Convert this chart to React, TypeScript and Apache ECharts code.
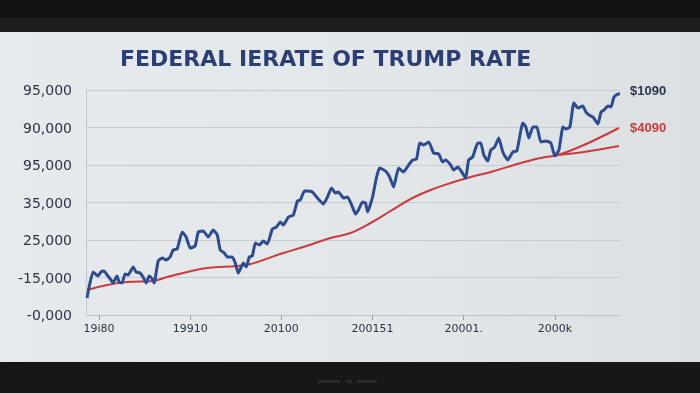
import React, { useEffect, useRef } from "react";
import * as echarts from "echarts";

const TITLE = "FEDERAL IERATE OF TRUMP RATE";
const Y_LABELS = ["-0,000", "-15,000", "25,000", "35,000", "95,000", "90,000", "95,000"];
const X_TICKS = [1980, 1987, 1994, 2001, 2008, 2015];
const X_LABELS = ["19i80", "19910", "20100", "200151", "20001.", "2000k"];
const END_LABEL_BLUE = "$1090";
const END_LABEL_RED = "$4090";

const BLUE_YEARS = [
  1979.08, 1979.54, 1979.92, 1980.15, 1980.38, 1980.62, 1980.92, 1981.08, 1981.38, 1981.54,
  1981.77, 1982.0, 1982.23, 1982.62, 1982.85, 1983.15, 1983.38, 1983.62, 1983.85, 1984.08,
  1984.23, 1984.54, 1984.85, 1985.15, 1985.46, 1985.69, 1986.0, 1986.38, 1986.69, 1987.0,
  1987.38, 1987.62, 1988.0, 1988.38, 1988.77, 1989.08, 1989.31, 1989.62, 1989.85, 1990.23,
  1990.46, 1990.69, 1991.08, 1991.31, 1991.54, 1991.77, 1992.0, 1992.31, 1992.62, 1992.92,
  1993.31, 1993.62, 1993.92, 1994.15, 1994.54, 1994.92, 1995.23, 1995.46, 1995.77, 1996.0,
  1996.38, 1996.77, 1997.23, 1997.54, 1997.85, 1998.15, 1998.38, 1998.77, 1999.08, 1999.46,
  1999.69, 1999.92, 2000.23, 2000.46, 2000.62, 2001.0, 2001.31, 2001.54, 2002.0, 2002.31,
  2002.62, 2003.0, 2003.38, 2003.77, 2004.08, 2004.38, 2004.62, 2004.92, 2005.31, 2005.69,
  2006.08, 2006.38, 2006.62, 2007.0, 2007.23, 2007.54, 2007.85, 2008.15, 2008.38, 2008.69,
  2009.08, 2009.31, 2009.54, 2009.85, 2010.08, 2010.38, 2010.69, 2011.0, 2011.38, 2011.77,
  2012.08, 2012.54, 2012.77, 2013.0, 2013.31, 2013.62, 2013.92, 2014.31, 2014.69, 2015.0,
  2015.31, 2015.62, 2015.85, 2016.15, 2016.46, 2016.77, 2017.15, 2017.38, 2017.62, 2017.92,
  2018.31, 2018.54, 2018.77, 2019.08, 2019.31, 2019.54, 2019.85, 2020.0,
];
const BLUE_VALUES = [
  6800, 17200, 15600, 17200, 17600, 16000, 14000, 12800, 15600, 13200,
  12800, 16400, 16000, 19200, 17200, 16800, 15200, 12800, 15600, 14400,
  12800, 21600, 22800, 22000, 23200, 26000, 26400, 33200, 31200, 26800,
  27600, 33200, 33600, 31200, 34000, 32000, 26000, 24800, 23200, 23200,
  20800, 16800, 20800, 19200, 23200, 23600, 28800, 28000, 29600, 28400,
  34400, 35200, 37200, 36000, 39200, 40000, 45600, 46000, 49600, 49600,
  49200, 46800, 44400, 47200, 50800, 48800, 49200, 46800, 47200, 43200,
  40400, 42000, 45200, 44800, 41200, 47200, 55200, 58800, 57600, 55200,
  51200, 58800, 57200, 60000, 62000, 62400, 68800, 68000, 69200, 64800,
  64400, 61200, 62000, 60000, 58000, 59200, 57200, 54800, 62000, 63200,
  68800, 68800, 64000, 61600, 66000, 67200, 70800, 65200, 62000, 65200,
  65600, 76800, 75200, 70800, 75200, 75200, 69200, 69600, 68800, 63600,
  66000, 75200, 74400, 75200, 84800, 82800, 83600, 81200, 80000, 79200,
  76400, 81200, 82000, 83600, 83200, 87200, 88400, 88400,
];

const RED_YEARS = [
  1979.08, 1980.62, 1982.15, 1984.15, 1985.23, 1986.77, 1988.31, 1990.62, 1991.62, 1992.62,
  1994.15, 1995.69, 1997.77, 1999.31, 2000.85, 2002.38, 2003.92, 2005.46, 2007.0, 2008.54,
  2010.08, 2011.62, 2012.38, 2013.92, 2015.23, 2017.23, 2019.92,
];
const RED_VALUES = [
  10000, 12000, 13200, 13600, 15200, 17200, 18800, 19600, 20400, 22000,
  24800, 27200, 30800, 32800, 36800, 41600, 46400, 50000, 52800, 55200,
  57200, 59600, 60800, 62800, 64000, 68000, 74800,
];
const RED_BRANCH_YEARS = [2015.23, 2017.23, 2019.92];
const RED_BRANCH_VALUES = [64000, 65200, 67600];

const pairs = (xs: number[], ys: number[]) => xs.map((x, i) => [x, ys[i]]);

export default function App() {
  const ref = useRef<HTMLDivElement>(null);
  useEffect(() => {
    if (!ref.current) return;
    const chart = echarts.init(ref.current, null, { renderer: "svg" });
    const blue = "#2d4b8f";
    const red = "#c93b3c";
    const labelFont = "DejaVu Sans";
    chart.setOption({
      animation: false,
      backgroundColor: "transparent",
      graphic: [
        { type: "rect", z: -10, shape: { x: 0, y: 0, width: 700, height: 393 }, style: { fill: "#121212" } },
        { type: "rect", z: -10, shape: { x: 0, y: 18, width: 700, height: 15 }, style: { fill: "#1c1d1e" } },
        {
          type: "rect",
          z: -9,
          shape: { x: 0, y: 32, width: 700, height: 330 },
          style: {
            fill: new echarts.graphic.LinearGradient(0, 0, 1, 0, [
              { offset: 0, color: "#e7eaed" },
              { offset: 0.5, color: "#e4e7ea" },
              { offset: 1, color: "#dde0e3" },
            ]),
          },
        },
        { type: "rect", z: -10, shape: { x: 0, y: 362, width: 700, height: 31 }, style: { fill: "#171717" } },
        { type: "rect", z: -8, shape: { x: 318, y: 380, width: 22, height: 3 }, style: { fill: "#2a2a2a" } },
        { type: "rect", z: -8, shape: { x: 346, y: 380, width: 6, height: 3 }, style: { fill: "#2a2a2a" } },
        { type: "rect", z: -8, shape: { x: 357, y: 380, width: 20, height: 3 }, style: { fill: "#2a2a2a" } },
        {
          type: "text",
          left: 120,
          top: 47,
          style: {
            text: TITLE,
            font: "bold 22px 'DejaVu Sans'",
            fill: "#2b3f74",
          },
        },
        {
          type: "text",
          left: 630,
          top: 84,
          style: { text: END_LABEL_BLUE, font: "bold 13px 'Liberation Sans'", fill: "#2c3550" },
        },
        {
          type: "text",
          left: 630,
          top: 121,
          style: { text: END_LABEL_RED, font: "bold 13px 'Liberation Sans'", fill: red },
        },
      ],
      grid: { left: 86, right: 80, top: 90, bottom: 78 },
      xAxis: {
        type: "value",
        min: 1979,
        max: 2020,
        splitLine: { show: false },
        axisLine: { show: true, lineStyle: { color: "#bfc3c8", width: 1 } },
        axisTick: {
          show: true,
          customValues: X_TICKS,
          length: 5,
          lineStyle: { color: "#9aa0a8" },
        },
        axisLabel: {
          customValues: X_TICKS,
          margin: 8,
          fontFamily: labelFont,
          fontSize: 11,
          color: "#2c3445",
          formatter: (v: number) => {
            const i = X_TICKS.indexOf(Math.round(v));
            return i >= 0 ? X_LABELS[i] : "";
          },
        },
      },
      yAxis: {
        type: "value",
        min: 0,
        max: 90000,
        interval: 15000,
        axisLine: { show: true, lineStyle: { color: "#c3c7cc" } },
        axisTick: { show: false },
        splitLine: { show: true, lineStyle: { color: "#c8ccd1", width: 1 } },
        axisLabel: {
          margin: 14,
          fontFamily: labelFont,
          fontSize: 14,
          color: "#2c3445",
          formatter: (v: number) => Y_LABELS[Math.round(v / 15000)] ?? "",
        },
      },
      series: [
        {
          type: "line",
          data: pairs(RED_YEARS, RED_VALUES),
          smooth: 0.4,
          showSymbol: false,
          lineStyle: { color: red, width: 2 },
          z: 2,
        },
        {
          type: "line",
          data: pairs(RED_BRANCH_YEARS, RED_BRANCH_VALUES),
          smooth: 0.4,
          showSymbol: false,
          lineStyle: { color: red, width: 2 },
          z: 2,
        },
        {
          type: "line",
          data: pairs(BLUE_YEARS, BLUE_VALUES),
          smooth: 0.15,
          showSymbol: false,
          lineStyle: { color: blue, width: 3 },
          z: 3,
        },
      ],
    });
    return () => chart.dispose();
  }, []);
  return (
    <div
      ref={ref}
      style={{ position: "fixed", left: 0, top: 0, width: 700, height: 393 }}
    />
  );
}
